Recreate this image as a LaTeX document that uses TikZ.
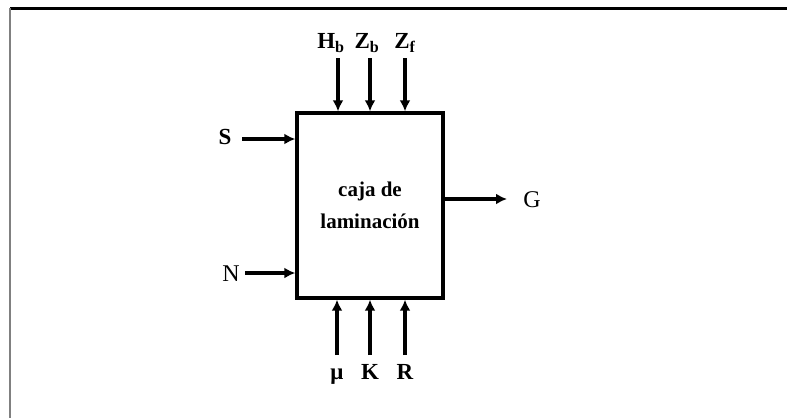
\documentclass[tikz,border=0pt]{standalone}
\usepackage{fontspec}
\setmainfont{Liberation Serif}
\usetikzlibrary{arrows.meta,positioning}

\begin{document}
\begin{tikzpicture}[
  x=1pt,y=-1pt,
  lbl/.style={inner sep=0pt,font=\fontsize{23}{24}\selectfont\bfseries},
  lblr/.style={inner sep=0pt,font=\fontsize{24}{24}\selectfont},
  caja/.style={rectangle,draw,line width=3.4pt,minimum width=146pt,
               minimum height=185pt,align=center,
               font=\fontsize{21}{32}\selectfont\bfseries},
  arrow/.style={-{Latex[length=11pt,width=11pt]},line width=3.2pt}
]
\useasboundingbox (0,0) rectangle (787,418);
% frame
\draw[line width=3pt] (10,8) -- (787,8);
\draw[gray,line width=1.2pt] (10,8) -- (10,418);

\node[caja] (box) at (370,205.5) {caja de\\laminación};

% top inputs
\node[lbl] (hb) at (331,43) {H\textsubscript{b}};
\node[lbl] (zb) at (367,43) {Z\textsubscript{b}};
\node[lbl] (zf) at (405,43) {Z\textsubscript{f}};
\coordinate (hbin) at (338,58);
\coordinate (zbin) at (370,58);
\coordinate (zfin) at (405,58);
\draw[arrow] (hbin) -- (hbin |- box.north);
\draw[arrow] (zbin) -- (zbin |- box.north);
\draw[arrow] (zfin) -- (zfin |- box.north);

% bottom inputs
\node[lbl,anchor=base] (mu) at (337,379) {μ};
\node[lbl,anchor=base] (k)  at (370,379) {K};
\node[lbl,anchor=base] (r)  at (405,379) {R};
\coordinate (muin) at (337,355);
\coordinate (kin)  at (370,355);
\coordinate (rin)  at (405,355);
\draw[arrow] (muin) -- (muin |- box.south);
\draw[arrow] (kin)  -- (kin |- box.south);
\draw[arrow] (rin)  -- (rin |- box.south);

% left inputs
\node[lbl]  (s) at (225,137) {S};
\node[lblr] (n) at (231,274) {N};
\coordinate (sin) at (242,139);
\coordinate (nin) at (245,273);
\draw[arrow] (sin) -- (sin -| box.west);
\draw[arrow] (nin) -- (nin -| box.west);

% output
\node[lblr] (g) at (532,200) {G};
\coordinate (gout) at (507,199);
\draw[arrow] (gout -| box.east) -- (gout);
\end{tikzpicture}
\end{document}
